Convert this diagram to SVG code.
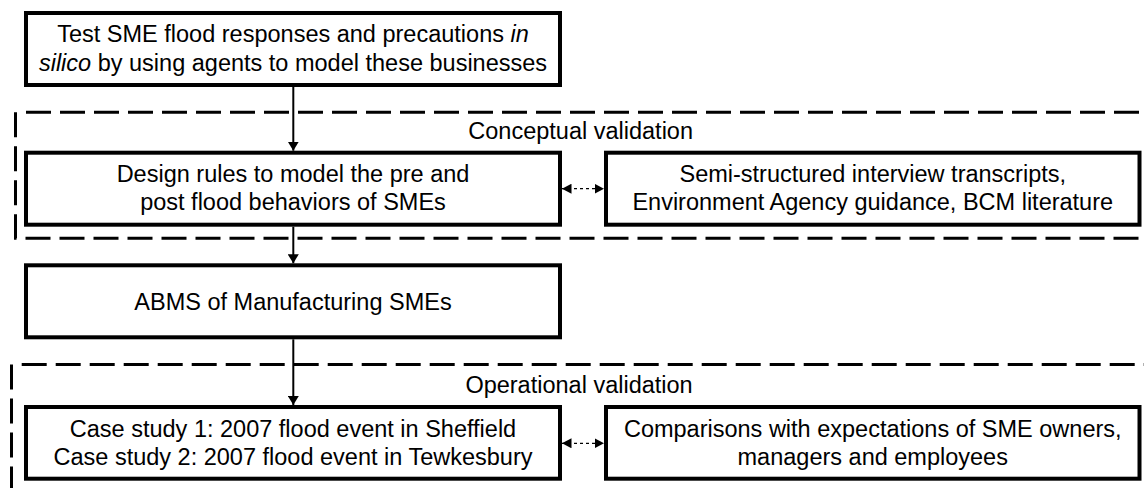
<svg xmlns="http://www.w3.org/2000/svg" width="1144" height="488" viewBox="0 0 1144 488">
<style>
  .box { fill: #ffffff; stroke: #000000; stroke-width: 4; }
  .t { font-family: "Liberation Sans", Arial, sans-serif; font-size: 23.5px; fill: #000000; text-anchor: middle; }
  .lbl { font-family: "Liberation Sans", Arial, sans-serif; font-size: 23.5px; fill: #000000; text-anchor: end; }
  .dash { fill: none; stroke: #000000; stroke-width: 3; stroke-dasharray: 25 9; }
  .arrow { fill: none; stroke: #000000; stroke-width: 2; marker-end: url(#ah); }
  .dotted { fill: none; stroke: #000000; stroke-width: 1.3; stroke-dasharray: 3 3; marker-start: url(#dh); marker-end: url(#dh); }
</style>
<defs>
  <marker id="ah" viewBox="0 0 9 11" markerWidth="9" markerHeight="11" refX="9" refY="5.5" orient="auto" markerUnits="userSpaceOnUse">
    <path d="M0,0 L9,5.5 L0,11 Z" fill="#000000"/>
  </marker>
  <marker id="dh" viewBox="0 0 9.5 10" markerWidth="9.5" markerHeight="10" refX="9.5" refY="5" orient="auto-start-reverse" markerUnits="userSpaceOnUse">
    <path d="M0,0 L9.5,5 L0,10 Z" fill="#000000"/>
  </marker>
</defs>

<g id="conceptual-validation">
  <path class="dash" d="M26,112.3 H1144"/>
  <path class="dash" d="M15.5,112.3 V238.3 H1144"/>
  <text class="lbl" x="693" y="139.3">Conceptual validation</text>
</g>

<g id="operational-validation">
  <path class="dash" d="M21.7,364.5 H1144"/>
  <path class="dash" d="M11.5,364.5 V490"/>
  <text class="lbl" x="692.7" y="392.7">Operational validation</text>
</g>

<g id="connectors">
  <path class="arrow" d="M293.3,87 V150.7"/>
  <path class="arrow" d="M293.3,226.7 V263.3"/>
  <path class="arrow" d="M293.3,339.3 V405"/>
  <path class="dotted" d="M562,188.7 H604"/>
  <path class="dotted" d="M562,443.3 H604"/>
</g>

<g id="test-sme">
  <rect class="box" x="26" y="13" width="534" height="72"/>
  <text class="t" x="293" y="42.3">Test SME flood responses and precautions <tspan font-style="italic">in</tspan></text>
  <text class="t" x="293" y="71"><tspan font-style="italic">silico</tspan> by using agents to model these businesses</text>
</g>

<g id="design-rules">
  <rect class="box" x="26" y="152.7" width="534" height="72"/>
  <text class="t" x="293" y="181.7">Design rules to model the pre and</text>
  <text class="t" x="293" y="210">post flood behaviors of SMEs</text>
</g>

<g id="sources">
  <rect class="box" x="606" y="152.7" width="533.5" height="72"/>
  <text class="t" x="872.75" y="181.7">Semi-structured interview transcripts,</text>
  <text class="t" x="872.75" y="210">Environment Agency guidance, BCM literature</text>
</g>

<g id="abms">
  <rect class="box" x="26" y="265.3" width="534" height="72"/>
  <text class="t" x="293" y="310">ABMS of Manufacturing SMEs</text>
</g>

<g id="case-studies">
  <rect class="box" x="26" y="407" width="534" height="71.7"/>
  <text class="t" x="293" y="437.3">Case study 1: 2007 flood event in Sheffield</text>
  <text class="t" x="293" y="465">Case study 2: 2007 flood event in Tewkesbury</text>
</g>

<g id="comparisons">
  <rect class="box" x="606" y="407" width="533.5" height="71.7"/>
  <text class="t" x="872.75" y="436.7">Comparisons with expectations of SME owners,</text>
  <text class="t" x="872.75" y="465">managers and employees</text>
</g>
</svg>
